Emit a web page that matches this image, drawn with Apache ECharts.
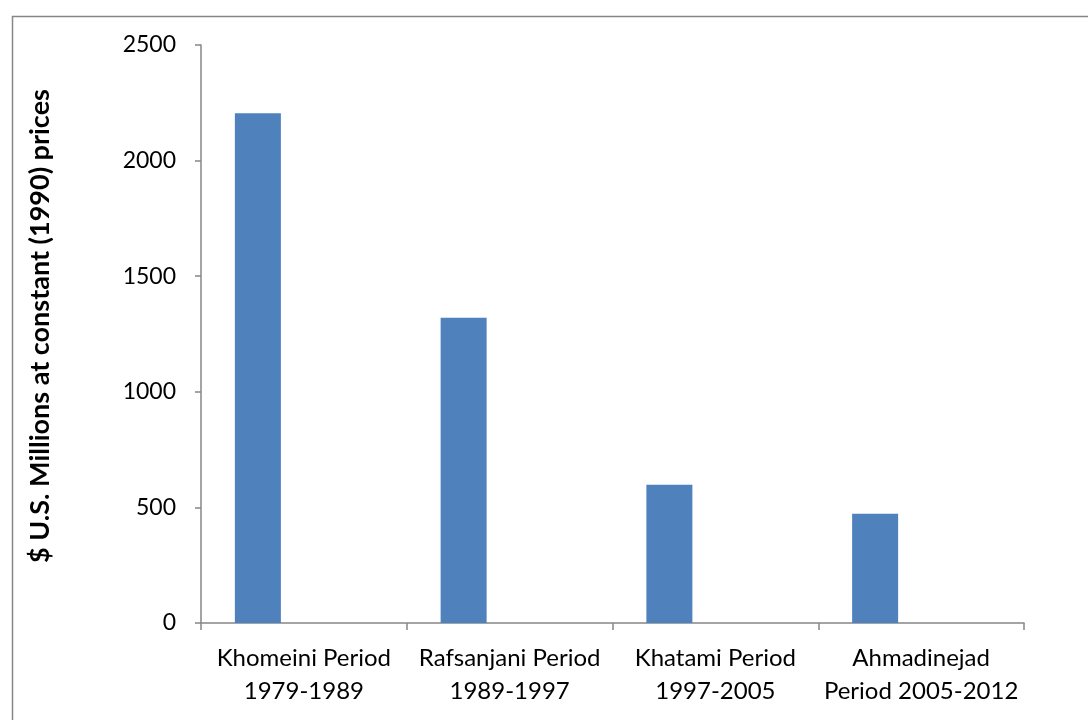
<!DOCTYPE html>
<html>
<head>
<meta charset="utf-8">
<style>
  html, body { margin: 0; padding: 0; background: #ffffff; }
  #chart { width: 1088px; height: 720px; }
</style>
<script src="https://cdn.jsdelivr.net/npm/echarts@6/dist/echarts.min.js"></script>
</head>
<body>
<div id="chart"></div>
<script>
// Periods of Iranian leadership and average spending per period
const categories = [
  'Khomeini Period\n1979-1989',
  'Rafsanjani Period\n1989-1997',
  'Khatami Period\n1997-2005',
  'Ahmadinejad\nPeriod 2005-2012'
];
const spending = [2205, 1320, 598, 472];
const spacerSeries = [null, null, null, null];
const yTicks = { min: 0, max: 2500, interval: 500 };
const yTitle = '$ U.S. Millions at constant (1990) prices';

const axisGray = '#868686';
const font = 'Lato, "Open Sans", sans-serif';

const chart = echarts.init(document.getElementById('chart'), null, { renderer: 'canvas' });

chart.setOption({
  animation: false,
  backgroundColor: '#ffffff',
  graphic: [{
    type: 'rect',
    left: 10, top: 14,
    shape: { width: 1200, height: 900 },
    style: { fill: 'none', stroke: axisGray, lineWidth: 1.5 },
    silent: true,
    z: -1
  }],
  grid: { left: 201, right: 64, top: 45, bottom: 97 },
  xAxis: {
    type: 'category',
    data: categories,
    axisLine: { lineStyle: { color: axisGray, width: 1.5 } },
    axisTick: { show: true, alignWithLabel: false, length: 7, lineStyle: { color: axisGray, width: 1.5 } },
    axisLabel: {
      color: '#000000', fontFamily: font, fontSize: 24,
      lineHeight: 33, margin: 19, interval: 0
    },
    splitLine: { show: false }
  },
  yAxis: {
    type: 'value',
    min: yTicks.min, max: yTicks.max, interval: yTicks.interval,
    name: yTitle,
    nameLocation: 'middle',
    nameGap: 147,
    nameRotate: 90,
    nameTextStyle: {
      color: '#000000', fontFamily: font, fontSize: 27, fontWeight: 'bold',
      padding: [0, 0, 0, 16]
    },
    axisLine: { show: true, lineStyle: { color: axisGray, width: 1.5 } },
    axisTick: { show: true, inside: false, length: 6, lineStyle: { color: axisGray, width: 1.5 } },
    axisLabel: {
      color: '#000000', fontFamily: font, fontSize: 23, margin: 25,
      formatter: (v) => String(v)
    },
    splitLine: { show: false }
  },
  series: [
    {
      type: 'bar',
      data: spending,
      barWidth: 46,
      barGap: '100%',
      itemStyle: { color: '#4F81BD' }
    },
    {
      type: 'bar',
      data: spacerSeries,
      barWidth: 46,
      itemStyle: { color: '#C0504D' }
    }
  ]
});
</script>
</body>
</html>
